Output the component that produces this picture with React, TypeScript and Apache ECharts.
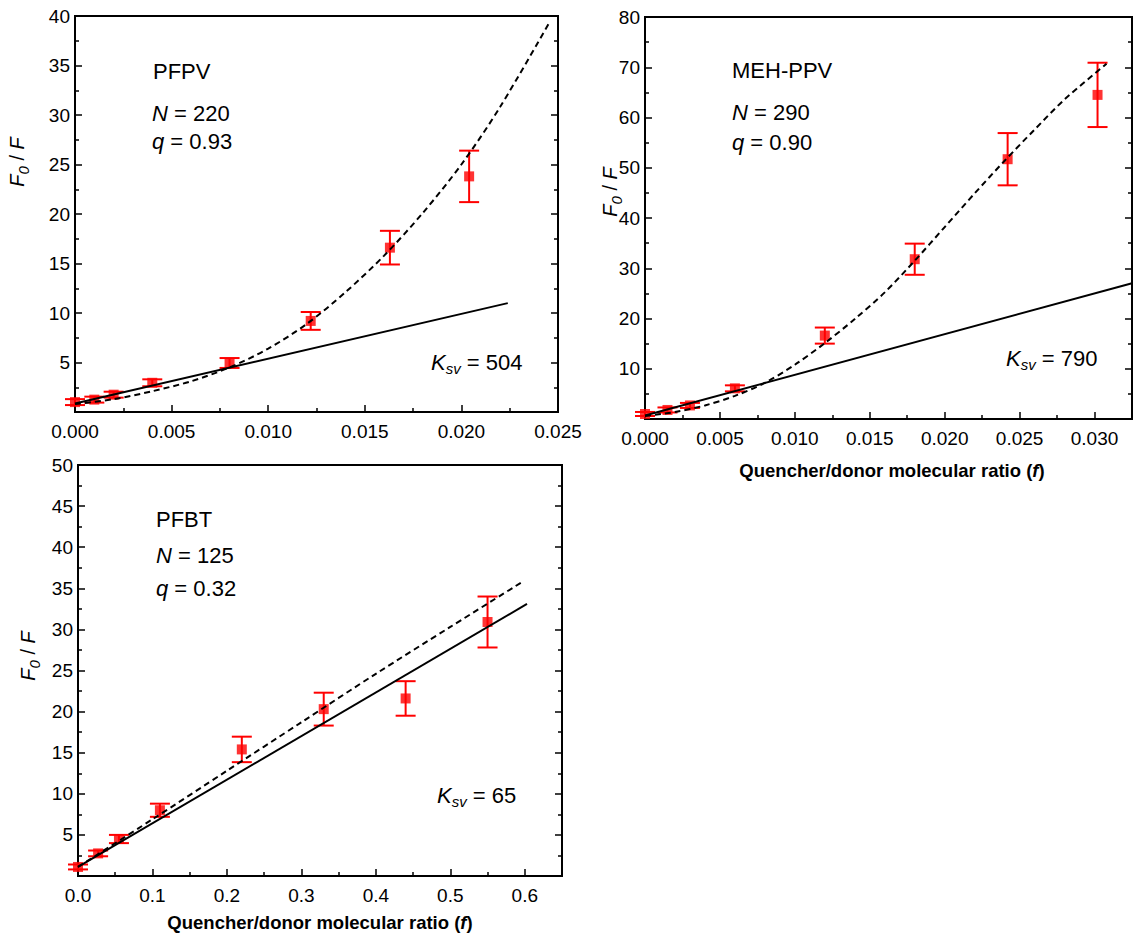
import React, { useEffect, useRef } from 'react';
import * as echarts from 'echarts';

// ---------- Data ----------
// PFPV panel
const pfpvX = [0, 0.001, 0.002, 0.004, 0.008, 0.0122, 0.0163, 0.0204];
const pfpvY = [1.0, 1.25, 1.75, 2.95, 4.95, 9.2, 16.6, 23.8];
const pfpvErr = [0.3, 0.3, 0.3, 0.35, 0.5, 0.9, 1.7, 2.6];
const pfpvLinX = [0, 0.0224];
const pfpvLinY = [0.85, 11.0];
const pfpvFitX = [0, 0.002, 0.004, 0.006, 0.008, 0.01, 0.012, 0.014, 0.016, 0.018, 0.02, 0.022, 0.0246];
const pfpvFitY = [0.8, 1.3, 2.1, 3.1, 4.5, 6.4, 8.9, 12.1, 15.8, 20.1, 25.0, 30.8, 39.5];

// MEH-PPV panel
const mehX = [0, 0.0015, 0.003, 0.006, 0.012, 0.018, 0.0242, 0.0302];
const mehY = [1.0, 1.8, 2.7, 6.1, 16.6, 31.8, 51.7, 64.5];
const mehErr = [0.4, 0.5, 0.5, 0.6, 1.6, 3.1, 5.2, 6.4];
const mehLinX = [0, 0.0325];
const mehLinY = [0.7, 27.0];
const mehFitX = [0, 0.002, 0.004, 0.006, 0.008, 0.01, 0.012, 0.014, 0.016, 0.018, 0.02, 0.022, 0.024, 0.026, 0.028, 0.0308];
const mehFitY = [0.6, 1.4, 2.7, 4.6, 7.2, 10.8, 15.1, 19.9, 25.2, 31.5, 38.2, 44.9, 51.4, 57.6, 63.6, 70.7];

// PFBT panel
const pfbtX = [0, 0.027, 0.055, 0.11, 0.22, 0.33, 0.44, 0.55];
const pfbtY = [1.1, 2.75, 4.5, 8.0, 15.4, 20.3, 21.6, 30.9];
const pfbtErr = [0.3, 0.35, 0.5, 0.8, 1.55, 2.0, 2.1, 3.1];
const pfbtLinX = [0, 0.603];
const pfbtLinY = [1.1, 33.1];
const pfbtFitX = [0, 0.1, 0.2, 0.3, 0.4, 0.5, 0.597];
const pfbtFitY = [1.1, 6.9, 12.8, 18.7, 24.6, 30.3, 35.8];

// Axis settings
const xMaxes = [0.025, 0.0325, 0.65];
const xIntervals = [0.005, 0.005, 0.1];
const xDecimals = [3, 3, 1];
const xLabelLimit = [0.0251, 0.0301, 0.61];
const yMaxes = [40, 80, 50];
const yIntervals = [5, 10, 5];

const FONT = '"Liberation Sans", Arial, Helvetica, sans-serif';

const grids = [
  { left: 75, top: 16, width: 483, height: 396 },
  { left: 645, top: 17, width: 494, height: 402 },
  { left: 78, top: 465, width: 484, height: 411 },
];

const zip = (a: number[], b: number[]) => a.map((v, i) => [v, b[i]]);

function errSeries(xs: number[], ys: number[], es: number[], idx: number) {
  return {
    type: 'custom',
    xAxisIndex: idx,
    yAxisIndex: idx * 2,
    data: xs.map((x, i) => [x, ys[i] - es[i], ys[i] + es[i]]),
    encode: { x: 0, y: [1, 2] },
    z: 3,
    renderItem: (params: any, api: any) => {
      const x = api.value(0);
      const lo = api.value(1);
      const hi = api.value(2);
      const p1 = api.coord([x, hi]);
      const p2 = api.coord([x, lo]);
      const w = 10;
      const st = { stroke: '#ff0000', lineWidth: 2 };
      return {
        type: 'group',
        children: [
          { type: 'line', shape: { x1: p1[0], y1: p1[1], x2: p2[0], y2: p2[1] }, style: st },
          { type: 'line', shape: { x1: p1[0] - w, y1: p1[1], x2: p1[0] + w, y2: p1[1] }, style: st },
          { type: 'line', shape: { x1: p2[0] - w, y1: p2[1], x2: p2[0] + w, y2: p2[1] }, style: st },
        ],
      };
    },
  };
}

function panelSeries(
  xs: number[], ys: number[], es: number[],
  lx: number[], ly: number[], fx: number[], fy: number[], idx: number
) {
  return [
    errSeries(xs, ys, es, idx),
    {
      type: 'scatter',
      xAxisIndex: idx,
      yAxisIndex: idx * 2,
      data: zip(xs, ys),
      symbol: 'rect',
      symbolSize: 10,
      itemStyle: { color: '#ff0000' },
      z: 4,
    },
    {
      type: 'line',
      xAxisIndex: idx,
      yAxisIndex: idx * 2,
      data: zip(lx, ly),
      showSymbol: false,
      lineStyle: { color: '#000', width: 2 },
      z: 5,
    },
    {
      type: 'line',
      xAxisIndex: idx,
      yAxisIndex: idx * 2,
      data: zip(fx, fy),
      showSymbol: false,
      smooth: 0.3,
      lineStyle: { color: '#000', width: 2, type: [6, 4] },
      z: 5,
    },
  ];
}

const richBase = (size: number) => ({
  n: { fontSize: size, fontFamily: FONT, lineHeight: 28, color: '#000' },
  i: { fontSize: size, fontFamily: FONT, fontStyle: 'italic', lineHeight: 28, color: '#000' },
  s: { fontSize: 15, fontFamily: FONT, fontStyle: 'italic', lineHeight: 15, verticalAlign: 'bottom', color: '#000' },
});

function txt(x: number, y: number, text: string, size = 22, extra: any = {}) {
  return {
    type: 'text',
    x,
    y,
    silent: true,
    ...extra,
    style: {
      text,
      rich: richBase(size),
      align: extra.align || 'left',
      verticalAlign: 'middle',
      fill: '#000',
      font: `${size}px ${FONT}`,
    },
  };
}

const panelTexts = [
  { name: 'PFPV', nq: ['{i|N}{n| = 220}', '{i|q}{n| = 0.93}'], k: '{i|K}{s|sv}{n| = 504}',
    title: [153, 71], n: [152, 113], q: [152, 141], kp: [431, 362], yname: [17, 162] },
  { name: 'MEH-PPV', nq: ['{i|N}{n| = 290}', '{i|q}{n| = 0.90}'], k: '{i|K}{s|sv}{n| = 790}',
    title: [732, 70], n: [732, 112], q: [732, 142], kp: [1006, 358], yname: [610, 192] },
  { name: 'PFBT', nq: ['{i|N}{n| = 125}', '{i|q}{n| = 0.32}'], k: '{i|K}{s|sv}{n| = 65}',
    title: [156, 519], n: [156, 555], q: [156, 588], kp: [437, 795], yname: [28, 656] },
];

export default function App() {
  const ref = useRef<HTMLDivElement>(null);
  useEffect(() => {
    if (!ref.current) return;
    const chart = echarts.init(ref.current, undefined, { renderer: 'svg' });

    const xAxis = grids.map((_, i) => ({
      type: 'value',
      gridIndex: i,
      min: 0,
      max: xMaxes[i],
      interval: xIntervals[i],
      axisLine: { show: true, lineStyle: { color: '#000', width: 2 } },
      axisTick: { show: true, inside: true, length: 7, lineStyle: { color: '#000', width: 1.5 } },
      minorTick: { show: true, splitNumber: 2, length: 4, lineStyle: { color: '#000', width: 1.5 } },
      splitLine: { show: false },
      axisLabel: {
        color: '#000',
        fontSize: 19,
        fontFamily: FONT,
        margin: 10,
        formatter: (v: number) => (v > xLabelLimit[i] ? '' : v.toFixed(xDecimals[i])),
      },
    }));

    const yAxis: any[] = [];
    grids.forEach((_, i) => {
      yAxis.push({
        type: 'value',
        gridIndex: i,
        position: 'left',
        min: 0,
        max: yMaxes[i],
        interval: yIntervals[i],
        axisLine: { show: true, lineStyle: { color: '#000', width: 2 } },
        axisTick: { show: true, inside: true, length: 7, lineStyle: { color: '#000', width: 1.5 } },
        minorTick: { show: true, splitNumber: 2, length: 4, lineStyle: { color: '#000', width: 1.5 } },
        splitLine: { show: false },
        axisLabel: {
          color: '#000',
          fontSize: 19,
          fontFamily: FONT,
          margin: 5,
          formatter: (v: number) => (v === 0 ? '' : String(v)),
        },
      });
      yAxis.push({
        type: 'value',
        gridIndex: i,
        position: 'right',
        min: 0,
        max: yMaxes[i],
        interval: yIntervals[i],
        axisLine: { show: false },
        axisTick: { show: true, inside: true, length: 7, lineStyle: { color: '#000', width: 1.5 } },
        minorTick: { show: true, splitNumber: 2, length: 4, lineStyle: { color: '#000', width: 1.5 } },
        splitLine: { show: false },
        axisLabel: { show: false },
      });
    });

    const graphics: any[] = [];
    panelTexts.forEach((p) => {
      graphics.push(txt(p.title[0], p.title[1], `{n|${p.name}}`));
      graphics.push(txt(p.n[0], p.n[1], p.nq[0]));
      graphics.push(txt(p.q[0], p.q[1], p.nq[1]));
      graphics.push(txt(p.kp[0], p.kp[1], p.k));
      graphics.push(
        txt(p.yname[0], p.yname[1], '{i|F}{s|0}{n| / }{i|F}', 20, { rotation: Math.PI / 2, align: 'center' })
      );
    });
    const axisTitle = (x: number, y: number) => ({
      type: 'text',
      x,
      y,
      silent: true,
      style: {
        text: '{b|Quencher/donor molecular ratio (}{bi|f}{b|)}',
        rich: {
          b: { fontSize: 18.5, fontWeight: 'bold', fontFamily: FONT, color: '#000' },
          bi: { fontSize: 18.5, fontWeight: 'bold', fontStyle: 'italic', fontFamily: FONT, color: '#000' },
        },
        align: 'center',
        verticalAlign: 'middle',
      },
    });
    graphics.push(axisTitle(892, 470));
    graphics.push(axisTitle(320, 922));

    chart.setOption({
      animation: false,
      backgroundColor: '#fff',
      grid: grids.map((g) => ({ ...g, show: true, borderColor: '#000', borderWidth: 2, backgroundColor: 'transparent' })),
      xAxis,
      yAxis,
      series: [
        ...panelSeries(pfpvX, pfpvY, pfpvErr, pfpvLinX, pfpvLinY, pfpvFitX, pfpvFitY, 0),
        ...panelSeries(mehX, mehY, mehErr, mehLinX, mehLinY, mehFitX, mehFitY, 1),
        ...panelSeries(pfbtX, pfbtY, pfbtErr, pfbtLinX, pfbtLinY, pfbtFitX, pfbtFitY, 2),
      ],
      graphic: graphics,
    });
    return () => chart.dispose();
  }, []);
  return (
    <div
      ref={ref}
      style={{ position: 'absolute', left: 0, top: 0, width: 1135, height: 939, background: '#fff' }}
    />
  );
}
